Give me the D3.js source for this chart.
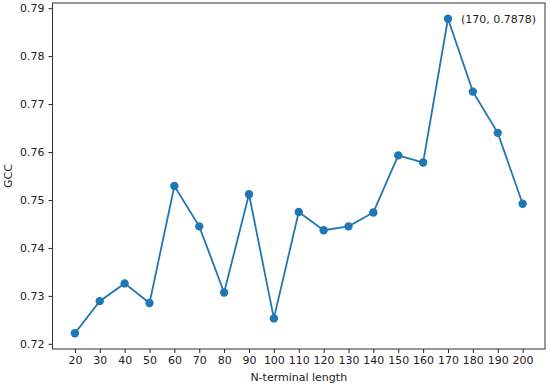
<!DOCTYPE html>
<html>
<head>
<meta charset="utf-8">
<script src="https://cdn.jsdelivr.net/npm/d3@7"></script>
<style>
  body { margin: 0; background: #fff; }
  svg { font-family: "DejaVu Sans", sans-serif; }
</style>
</head>
<body>
<script>
// N-terminal length vs GCC
var lengths = [20, 30, 40, 50, 60, 70, 80, 90, 100, 110, 120, 130, 140, 150, 160, 170, 180, 190, 200];
var gcc = [0.7222, 0.7289, 0.7326, 0.7285, 0.7529, 0.7445, 0.7307, 0.7512, 0.7253, 0.7475,
           0.7437, 0.7445, 0.7474, 0.7593, 0.7578, 0.7878, 0.7726, 0.7640, 0.7492];
var yTicks = [0.72, 0.73, 0.74, 0.75, 0.76, 0.77, 0.78, 0.79];
var peakLabel = "(170, 0.7878)";

var width = 550, height = 388;
var mLeft = 52.5, mRight = 545, mTop = 3, mBottom = 349;
var fs = "11px";

var svg = d3.select("body").append("svg").attr("width", width).attr("height", height);

// matplotlib style 5% margins
var xr = d3.extent(lengths), yr = d3.extent(gcc);
var xpad = (xr[1] - xr[0]) * 0.05, ypad = (yr[1] - yr[0]) * 0.05;
var x = d3.scaleLinear().domain([xr[0] - xpad, xr[1] + xpad]).range([mLeft, mRight]);
var y = d3.scaleLinear().domain([yr[0] - ypad, yr[1] + ypad]).range([mBottom, mTop]);

var xAxis = svg.append("g").attr("transform", "translate(0," + mBottom + ")")
  .call(d3.axisBottom(x).tickValues(lengths).tickSize(4).tickPadding(3).tickFormat(d3.format("d")));
var yAxis = svg.append("g").attr("transform", "translate(" + mLeft + ",0)")
  .call(d3.axisLeft(y).tickValues(yTicks).tickSize(4).tickPadding(4).tickFormat(d3.format(".2f")));

[xAxis, yAxis].forEach(function(a) {
  a.select(".domain").remove();
  a.selectAll("line").attr("stroke", "#222").attr("stroke-width", 1);
  a.selectAll("text").attr("fill", "#222").style("font-size", fs).style("font-family", "DejaVu Sans");
});

// frame
svg.append("rect").attr("x", mLeft).attr("y", mTop).attr("width", mRight - mLeft).attr("height", mBottom - mTop)
  .attr("fill", "none").attr("stroke", "#333").attr("stroke-width", 1);

var line = d3.line().x(function(d, i) { return x(lengths[i]); }).y(function(d) { return y(d); });
svg.append("path").datum(gcc).attr("d", line)
  .attr("fill", "none").attr("stroke", "#1f77b4").attr("stroke-width", 1.8);

svg.selectAll("circle.pt").data(gcc).enter().append("circle")
  .attr("class", "pt")
  .attr("cx", function(d, i) { return x(lengths[i]); })
  .attr("cy", function(d) { return y(d); })
  .attr("r", 4.2).attr("fill", "#1f77b4");

// annotate the peak
var best = d3.maxIndex(gcc);
svg.append("text").attr("x", x(lengths[best]) + 13).attr("y", y(gcc[best]) + 4)
  .attr("fill", "#222").style("font-size", fs).text(peakLabel);

svg.append("text").attr("x", (mLeft + mRight) / 2).attr("y", 381).attr("text-anchor", "middle")
  .attr("fill", "#222").style("font-size", fs).text("N-terminal length");
svg.append("text").attr("transform", "translate(12," + ((mTop + mBottom) / 2) + ") rotate(-90)")
  .attr("text-anchor", "middle").attr("fill", "#222").style("font-size", fs).text("GCC");
</script>
</body>
</html>
